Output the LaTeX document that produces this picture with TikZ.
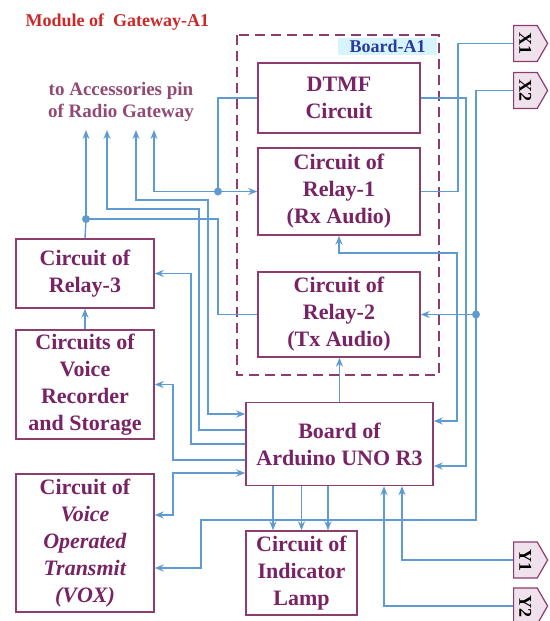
\documentclass[tikz,border=0pt]{standalone}
\usepackage{fontspec}
\setmainfont{Liberation Serif}
\usetikzlibrary{arrows.meta,shapes.symbols}

\definecolor{wireblue}{RGB}{95,155,210}
\definecolor{boxpurple}{RGB}{140,60,110}
\definecolor{boxtext}{RGB}{120,35,100}
\definecolor{pintext}{RGB}{145,75,115}
\definecolor{tagfill}{RGB}{240,226,236}
\definecolor{boardblue}{RGB}{40,60,160}
\definecolor{boardfill}{RGB}{215,243,252}
\definecolor{titlered}{RGB}{205,40,40}

\begin{document}
\begin{tikzpicture}[x=1pt, y=-1pt,
  every node/.style={font=\bfseries},
  block/.style={draw=boxpurple, line width=1.4pt, text=boxtext, align=center,
    inner sep=0pt, font=\bfseries\fontsize{22}{27}\selectfont},
  wire/.style={draw=wireblue, line width=1.4pt, >={Stealth[length=9pt,width=7pt]}},
  tag/.style={shape=signal, signal to=east, signal pointer angle=120, draw=boxpurple,
    fill=tagfill, line width=1.2pt, minimum width=34pt, minimum height=36pt,
    inner sep=0pt, font=\bfseries\fontsize{18}{18}\selectfont}]

  \useasboundingbox (0,0) rectangle (549,621);

  %% Titles
  \node[titlered, anchor=west, font=\bfseries\fontsize{18}{22}\selectfont] (title) at (22,22) {Module of~ Gateway-A1};
  \node[pintext, align=center, font=\bfseries\fontsize{19}{22}\selectfont] (acc) at (121,102) {to Accessories pin\\of Radio Gateway};

  %% Board-A1 (dashed frame)
  \draw[boxpurple, line width=1.4pt, dash pattern=on 10pt off 6pt] (237,35) rectangle (439,375);
  \node[fill=boardfill, text=boardblue, minimum width=99pt, minimum height=17pt, inner sep=0pt,
    font=\bfseries\fontsize{18}{18}\selectfont] (board) at (387.5,46.5) {Board-A1};

  %% Blocks
  \node[block, minimum width=162pt, minimum height=70pt] (dtmf) at (339,98) {DTMF\\Circuit};
  \node[block, minimum width=162pt, minimum height=87pt] (relayA) at (339,191.5) {Circuit of\\Relay-1\\(Rx Audio)};
  \node[block, minimum width=162pt, minimum height=85pt] (relayB) at (339,314.5) {Circuit of\\Relay-2\\(Tx Audio)};
  \node[block, minimum width=138pt, minimum height=69pt] (relayC) at (85,273.5) {Circuit of\\Relay-3};
  \node[block, minimum width=138pt, minimum height=109pt] (recorder) at (85,384.5) {Circuits of\\Voice\\Recorder\\and Storage};
  \node[block, minimum width=138pt, minimum height=138pt] (vox) at (85,543) {Circuit of\\\textit{Voice}\\\textit{Operated}\\\textit{Transmit}\\\textit{(VOX)}};
  \node[block, minimum width=187pt, minimum height=83pt] (arduino) at (339.5,444) {Board of\\Arduino UNO R3};
  \node[block, minimum width=111pt, minimum height=84pt] (lamp) at (301.5,573) {Circuit of\\Indicator\\Lamp};

  %% Terminals
  \node[tag, anchor=west] (x1) at (513,43.5) {\rotatebox{-90}{X1}};
  \node[tag, anchor=west] (x2) at (513,90.5) {\rotatebox{-90}{X2}};
  \node[tag, anchor=west] (y1) at (513,560) {\rotatebox{-90}{Y1}};
  \node[tag, anchor=west] (y2) at (513,606) {\rotatebox{-90}{Y2}};

  % pins of the radio gateway and bends
  \coordinate (pinA) at (86,130);
  \coordinate (pinB) at (107,130);
  \coordinate (pinC) at (136,130);
  \coordinate (pinD) at (154,130);
  \coordinate (jA) at (218,191.5);
  \coordinate (jB) at (86,219);
  \coordinate (jX) at (476,314.5);
  \coordinate (kB) at (199,209);
  \coordinate (kC) at (208,200);
  \coordinate (kR2) at (218,219);
  \coordinate (kR3) at (191,273.5);
  \coordinate (kRec) at (173,384.5);
  \coordinate (kVox) at (173,473);
  \coordinate (kV) at (201,520);
  \coordinate (kR1) at (457,253);
  \coordinate (kD) at (466,466);
  \coordinate (kX1) at (458,191.5);

  %% Connections
  \draw[wire] (dtmf.west) -| (jA);
  \draw[wire, ->] (jA) -- (relayA.west);
  \draw[wire, ->] (jA) -| (pinD);
  \draw[wire] (relayB.west) -| (kR2) -- (jB);
  \draw[wire, ->] (jB) -- (pinA);
  \draw[wire] (jB) -- (relayC.north);
  \draw[wire, <-] (pinB) |- (kB) |- ([yshift=14pt]arduino.west);
  \draw[wire, <->] (pinC) |- (kC) |- ([yshift=30pt]arduino.west);
  \draw[wire, ->] (arduino.west) -| (kR3) -- (relayC.east);
  \draw[wire, ->] ([yshift=-16pt]arduino.west) -| (kRec) -- (recorder.east);
  \draw[wire, <->] ([yshift=28pt]vox.east) -| (kVox) -- ([yshift=-29pt]arduino.west);
  \draw[wire, ->] (recorder.north) -- (relayC.south);
  \draw[wire, ->] (arduino.north) -- (arduino.north |- relayB.south);
  \draw[wire, <->] (relayA.south) |- (kR1) |- ([yshift=23pt]arduino.east);
  \draw[wire, ->] (dtmf.east) -| (kD) -- ([yshift=-22pt]arduino.east);
  \draw[wire] (x1.west) -| (kX1) -- (relayA.east);
  \draw[wire] (x2.west) -| (jX);
  \draw[wire, ->] (jX) -- (relayB.east);
  \draw[wire, ->] (jX) |- (kV) |- ([yshift=-25pt]vox.east);
  \foreach \dx in {-28.5,0,26.5}
    \draw[wire, ->] ([xshift=\dx pt]lamp.north |- arduino.south) -- ([xshift=\dx pt]lamp.north);
  \draw[wire, ->] (y1.west) -| ([xshift=62.5pt]arduino.south);
  \draw[wire, ->] (y2.west) -| ([xshift=44.5pt]arduino.south);

  % junction dots
  \foreach \j in {jA,jB,jX}
    \fill[wireblue] (\j) circle (4pt);

\end{tikzpicture}
\end{document}
